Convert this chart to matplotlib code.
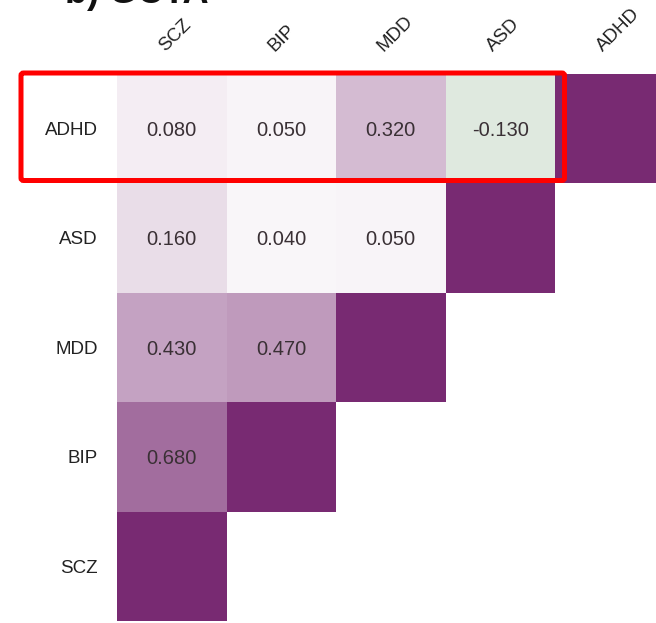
import numpy as np
import matplotlib
matplotlib.use("Agg")
import matplotlib.pyplot as plt
from matplotlib.colors import LinearSegmentedColormap
from matplotlib.patches import FancyBboxPatch

plt.rcParams['font.family'] = ['Liberation Sans', 'DejaVu Sans']

# Genetic correlations (GCTA), lower triangle incl. diagonal
row_labels = ["ADHD", "ASD", "MDD", "BIP", "SCZ"]
col_labels = ["SCZ", "BIP", "MDD", "ASD", "ADHD"]
row_adhd = [0.08, 0.05, 0.32, -0.13, 1.0]
row_asd = [0.16, 0.04, 0.05, 1.0]
row_mdd = [0.43, 0.47, 1.0]
row_bip = [0.68, 1.0]
row_scz = [1.0]
rows = [row_adhd, row_asd, row_mdd, row_bip, row_scz]

n = len(row_labels)
mat = np.full((n, n), np.nan)
for i, vals in enumerate(rows):
    mat[i, :len(vals)] = vals

cmap = LinearSegmentedColormap.from_list(
    "gr_pu", [(0.0, "#0a560a"), (0.5, "#ffffff"), (1.0, "#782a72")])

W, H = 656, 623
fig = plt.figure(figsize=(W / 100, H / 100), dpi=100)
left_px, top_px, cell_px = 117, 73.5, 109.5
ax = fig.add_axes([left_px / W, 1 - (top_px + n * cell_px) / H,
                   n * cell_px / W, n * cell_px / H])
ax.pcolormesh(np.arange(n + 1), np.arange(n + 1), np.ma.masked_invalid(mat),
              cmap=cmap, vmin=-1, vmax=1)
ax.set_xlim(0, n)
ax.set_ylim(n, 0)
ax.axis("off")

px = 1 / cell_px
for i in range(n):
    for j in range(n):
        v = mat[i, j]
        if np.isnan(v) or i + j == n - 1:
            continue
        ax.text(j + 0.5, i + 0.5 + 2 * px, f"{v:.3f}", ha="center", va="center",
                fontsize=14.5, color="#3a3035")

for i, lab in enumerate(row_labels):
    ax.text(-19 * px, i + 0.5 + 2 * px, lab, ha="right", va="center",
            fontsize=13.5, color="#222222")

for j, lab in enumerate(col_labels):
    ax.text(j + 0.5 - 7 * px, -21 * px, lab, ha="left", va="baseline",
            rotation=45, rotation_mode="anchor", fontsize=13.5, color="#222222")

fig.text(65 / W, 1 - 3 / H, "b) GCTA", fontsize=26, fontweight="bold",
         ha="left", va="baseline", color="#111111")

box = FancyBboxPatch((21 / W, 1 - 180.5 / H), 543.5 / W, 107.5 / H,
                     boxstyle="round,pad=0,rounding_size=0.004",
                     transform=fig.transFigure, fill=False,
                     edgecolor="#ff0000", linewidth=3.6)
fig.add_artist(box)

fig.savefig("out.png", dpi=100)
